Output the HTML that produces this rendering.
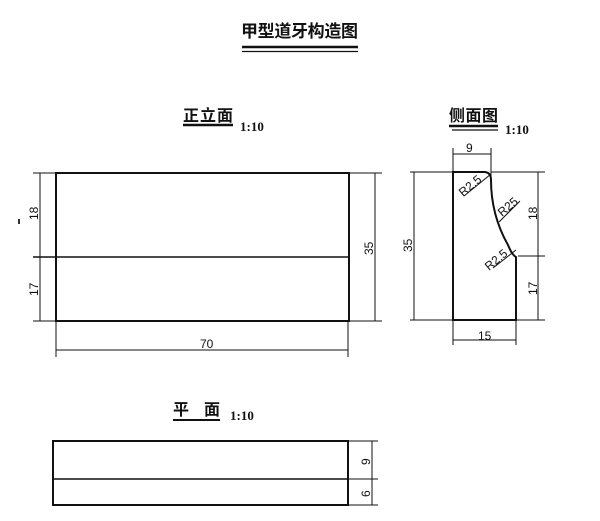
<!DOCTYPE html>
<html><head><meta charset="utf-8"><style>
html,body{margin:0;padding:0;background:#fff;width:600px;height:521px;overflow:hidden}
</style></head><body>
<svg width="600" height="521" viewBox="0 0 600 521" xmlns="http://www.w3.org/2000/svg" font-family="'Liberation Serif','Noto Serif CJK SC',serif">
<g fill="#111">
<text x="241" y="37" font-size="17" font-family="'Liberation Sans','Noto Sans CJK SC',sans-serif" font-weight="bold" textLength="117">甲型道牙构造图</text>
<text x="183" y="121" font-size="16" font-family="'Liberation Sans','Noto Sans CJK SC',sans-serif" font-weight="bold" textLength="50">正立面</text>
<text x="240" y="131" font-size="13" font-weight="bold">1:10</text>
<text x="449" y="121" font-size="16" font-family="'Liberation Sans','Noto Sans CJK SC',sans-serif" font-weight="bold" textLength="49">侧面图</text>
<text x="505" y="134" font-size="13" font-weight="bold">1:10</text>
<text x="173" y="415" font-size="16" font-family="'Liberation Sans','Noto Sans CJK SC',sans-serif" font-weight="bold" textLength="47">平 面</text>
<text x="230" y="420" font-size="13" font-weight="bold">1:10</text>
</g>
<g stroke="#111" fill="none">
<line x1="242" y1="47" x2="358" y2="47" stroke-width="2.5"/>
<line x1="242" y1="51.5" x2="358" y2="51.5" stroke-width="1.2"/>
<line x1="183" y1="125" x2="233" y2="125" stroke-width="2.5"/>
<line x1="449" y1="126" x2="498" y2="126" stroke-width="2.5"/>
<line x1="452" y1="130" x2="498" y2="130" stroke-width="1.2"/>
<line x1="173" y1="420" x2="220" y2="420" stroke-width="2"/>

<rect x="56" y="173" width="293" height="148" stroke-width="2"/>
<line x1="33" y1="257" x2="349" y2="257" stroke-width="1.6"/>
<g stroke-width="1">
<line x1="33" y1="173" x2="56" y2="173"/><line x1="33" y1="321" x2="56" y2="321"/>
<line x1="40" y1="173" x2="40" y2="321"/>
<line x1="349" y1="173" x2="382" y2="173"/><line x1="349" y1="321" x2="382" y2="321"/>
<line x1="375" y1="173" x2="375" y2="321"/>
<line x1="56" y1="321" x2="56" y2="357"/><line x1="348" y1="321" x2="348" y2="357"/>
<line x1="56" y1="350" x2="348" y2="350"/>
</g>
<path d="M453,320 L453,172 L484,172 Q491,172 491,180 Q491,215 508,245 Q512,255 516,257 L516,320 Z" stroke-width="2"/>
<g stroke-width="1">
<line x1="453" y1="148" x2="453" y2="172"/><line x1="491" y1="148" x2="491" y2="178"/>
<line x1="453" y1="154" x2="491" y2="154"/>
<line x1="410" y1="172" x2="453" y2="172"/><line x1="410" y1="320" x2="453" y2="320"/>
<line x1="414" y1="172" x2="414" y2="320"/>
<line x1="491" y1="172" x2="545" y2="172"/><line x1="516" y1="320" x2="545" y2="320"/>
<line x1="518" y1="256" x2="545" y2="256"/>
<line x1="538" y1="172" x2="538" y2="320"/>
<line x1="453" y1="320" x2="453" y2="345"/><line x1="516" y1="320" x2="516" y2="345"/>
<line x1="453" y1="340" x2="516" y2="340"/>
<line x1="464" y1="196" x2="491" y2="174"/>
<line x1="499" y1="222" x2="520" y2="201"/>
<line x1="493" y1="268" x2="516" y2="250"/>
</g>
<rect x="53" y="441" width="295" height="64" stroke-width="2"/>
<line x1="53" y1="479" x2="348" y2="479" stroke-width="1.6"/>
<g stroke-width="1">
<line x1="348" y1="441" x2="378" y2="441"/><line x1="348" y1="479" x2="378" y2="479"/><line x1="348" y1="505" x2="378" y2="505"/>
<line x1="372" y1="441" x2="372" y2="505"/>
</g>
</g>
<g fill="#111" font-size="12" font-family="'Liberation Sans Narrow','Liberation Sans',sans-serif">
<text x="200" y="348">70</text>
<text x="478" y="340">15</text>
<text x="466" y="152">9</text>
<text transform="translate(38,220) rotate(-90)">18</text>
<text transform="translate(38,296) rotate(-90)">17</text>
<text transform="translate(373,255) rotate(-90)">35</text>
<text transform="translate(412,252) rotate(-90)">35</text>
<text transform="translate(537,220) rotate(-90)">18</text>
<text transform="translate(537,295) rotate(-90)">17</text>
<text transform="translate(370,465) rotate(-90)">9</text>
<text transform="translate(370,497) rotate(-90)">6</text>
<text transform="translate(463,197) rotate(-40)">R2.5</text>
<text transform="translate(502,217) rotate(-40)">R25</text>
<text transform="translate(489,271) rotate(-40)">R2.5</text>
</g>
<rect x="18" y="219" width="2" height="5" fill="#333"/>
</svg>
</body></html>
